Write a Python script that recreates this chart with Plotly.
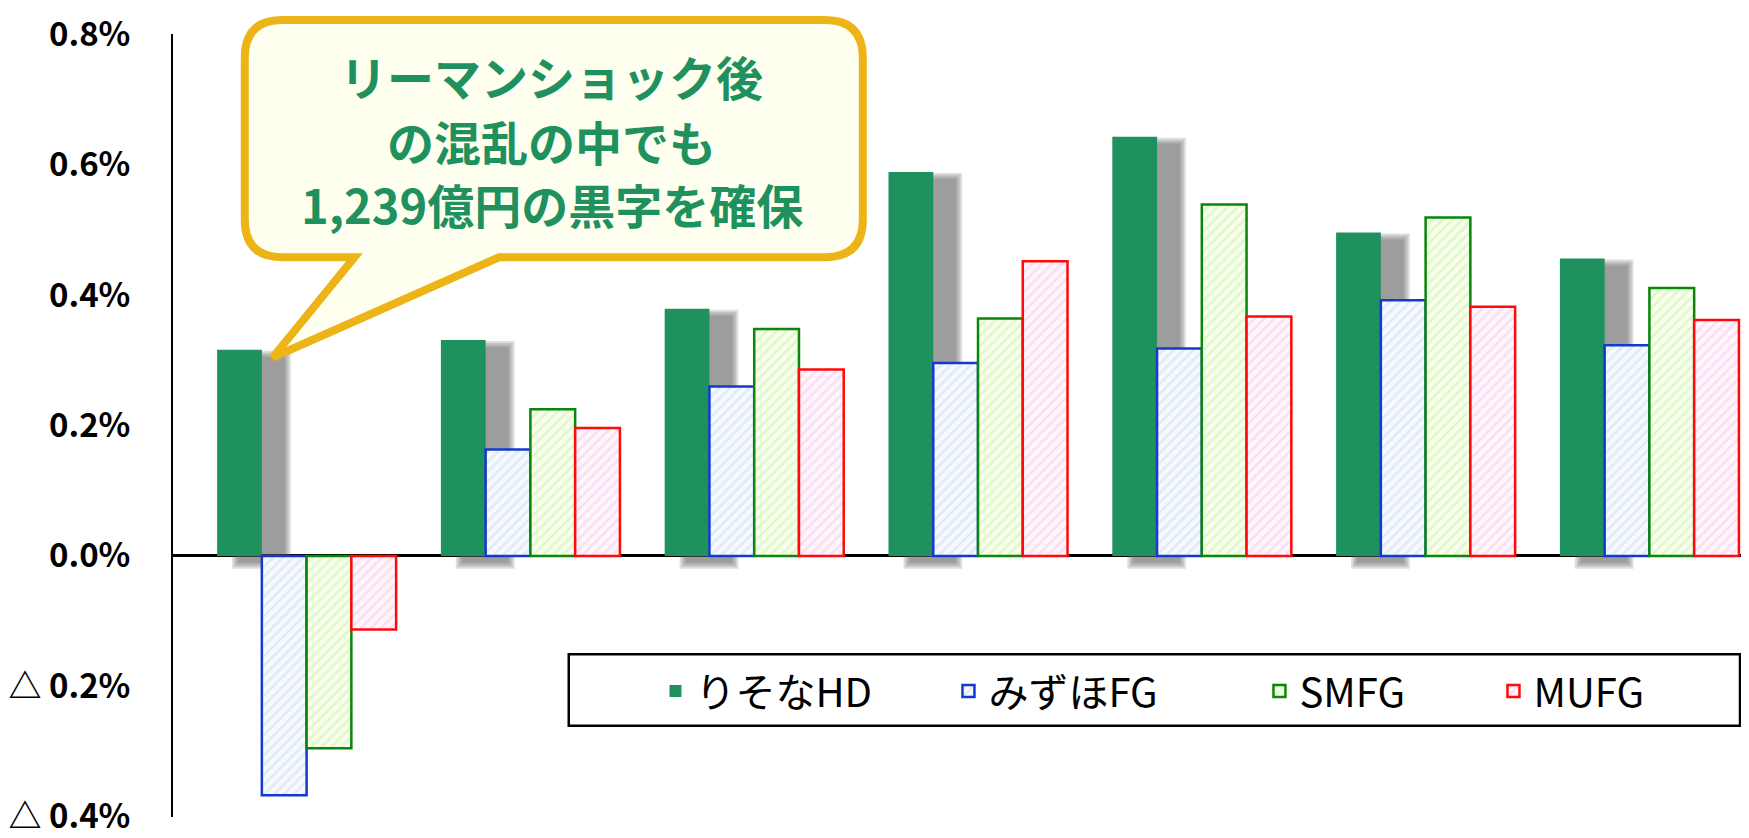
import plotly.graph_objects as go

# ---- data (ROA-like ratio, %) ----
categories = ["2008年度", "2009年度", "2010年度", "2011年度", "2012年度", "2013年度", "2014年度"]
series_names = ["りそなHD", "みずほFG", "SMFG", "MUFG"]
resona = [0.316, 0.331, 0.379, 0.589, 0.643, 0.496, 0.456]
mizuho = [-0.367, 0.163, 0.260, 0.296, 0.318, 0.392, 0.323]
smfg = [-0.295, 0.225, 0.348, 0.364, 0.539, 0.519, 0.411]
mufg = [-0.113, 0.196, 0.286, 0.452, 0.367, 0.382, 0.362]

tick_vals = [-0.4, -0.2, 0.0, 0.2, 0.4, 0.6, 0.8]
tick_text = ["△ 0.4%", "△ 0.2%", "0.0%", "0.2%", "0.4%", "0.6%", "0.8%"]

callout_lines = ["リーマンショック後", "の混乱の中でも", "1,239億円の黒字を確保"]

# ---- layout geometry (page pixels; page body has an 8px margin) ----
OFF = 8
FW, FH = 1749 - OFF, 838 - OFF
L, R, T, B = 168 - OFF, 1749 - OFF, 31 - OFF, 820 - OFF
W, H = R - L, B - T
Y0, Y1 = -0.4, 0.8
XR = [-0.597, 6.445]
PX_X = W / (XR[1] - XR[0])      # px per category unit
PX_Y = H / (Y1 - Y0)            # px per % unit


def fx(p):
    return (p - OFF - L) / W


def fy(p):
    return (B - (p - OFF)) / H


GREEN = "#1F915E"
BW = 0.2
FONT = "Noto Sans CJK JP"

fig = go.Figure()

# soft drop shadow behind the solid Resona bars (derived from Resona values)
sh_dx = 22 / PX_X
sh_dy = 8 / PX_Y
sh_base = -6 / PX_Y
for e in [7, 5, 3, 1]:
    ex = e / PX_X
    ey = e / PX_Y
    fig.add_trace(go.Bar(
        x=categories,
        y=[v - sh_dy + ey - (sh_base - ey) for v in resona],
        base=sh_base - ey,
        offset=-0.4 + sh_dx - ex,
        width=BW + 2 * ex,
        marker=dict(color="rgba(90,90,90,0.2)", line=dict(width=0)),
        showlegend=False,
        hoverinfo="skip",
    ))

fig.add_trace(go.Bar(
    x=categories, y=resona, name=series_names[0],
    offset=-0.4, width=BW,
    marker=dict(color=GREEN, line=dict(width=0)),
    legendwidth=248,
))

styles = [
    (mizuho, series_names[1], "#1539D0", "#C9DBF2", "#F6F9FD", 266),
    (smfg, series_names[2], "#0A860A", "#C8F29A", "#F7FEEE", 189),
    (mufg, series_names[3], "#FF0A0A", "#F6C6EE", "#FFF6FC", 120),
]
for i, (vals, nm, lc, fg, bg, lw) in enumerate(styles):
    fig.add_trace(go.Bar(
        x=categories, y=vals, name=nm,
        offset=-0.2 + 0.2 * i, width=BW,
        marker=dict(
            color=bg,
            line=dict(color=lc, width=2.5),
            pattern=dict(shape="/", fgcolor=fg, bgcolor=bg, size=7, solidity=0.35),
        ),
        legendwidth=lw,
    ))

# callout bubble
r = 38
xl, xr_, yt, yb = 240, 860, 17, 256
tail_l, tail_r, tip = 350, 495, (268, 357)


def P(x, y):
    return f"{fx(x):.5f},{fy(y):.5f}"


path = (
    f"M {P(xl + r, yt)} L {P(xr_ - r, yt)} Q {P(xr_, yt)} {P(xr_, yt + r)} "
    f"L {P(xr_, yb - r)} Q {P(xr_, yb)} {P(xr_ - r, yb)} "
    f"L {P(tail_r, yb)} L {P(*tip)} L {P(tail_l, yb)} "
    f"L {P(xl + r, yb)} Q {P(xl, yb)} {P(xl, yb - r)} "
    f"L {P(xl, yt + r)} Q {P(xl, yt)} {P(xl + r, yt)} Z"
)
fig.add_shape(type="path", path=path, xref="paper", yref="paper",
              line=dict(color="#EDB418", width=8), fillcolor="#FFFFF0", layer="above")

line_y = [73, 138, 202]
for txt, yy in zip(callout_lines, line_y):
    fig.add_annotation(
        text=txt, xref="paper", yref="paper", x=fx(548), y=fy(yy),
        xanchor="center", yanchor="middle", showarrow=False,
        font=dict(family=FONT, size=47, color=GREEN, weight="bold"),
    )

# legend frame
fig.add_shape(type="rect", xref="paper", yref="paper",
              x0=fx(565), x1=fx(1740), y0=fy(728), y1=fy(656),
              line=dict(color="black", width=2.5), fillcolor="rgba(0,0,0,0)", layer="above")

fig.update_layout(
    width=FW, height=FH,
    margin=dict(l=L, r=FW - R, t=T, b=FH - B),
    paper_bgcolor="white", plot_bgcolor="white",
    barmode="overlay",
    showlegend=True,
    legend=dict(
        orientation="h", x=fx(652), xanchor="left", y=fy(693), yanchor="middle",
        font=dict(family=FONT, size=40, color="black"),
        bgcolor="rgba(0,0,0,0)", borderwidth=0, traceorder="normal",
    ),
    font=dict(family=FONT),
)
fig.update_xaxes(type="category", range=XR, showticklabels=False, ticks="",
                 showgrid=False, showline=False, zeroline=False)
fig.update_yaxes(range=[Y0 - 0.0005, Y1 + 0.0005], tickvals=tick_vals, ticktext=tick_text,
                 showgrid=False, showline=True, linecolor="black", linewidth=2,
                 zeroline=True, zerolinecolor="black", zerolinewidth=2.5,
                 ticks="", ticklabelstandoff=34, ticklabeloverflow="allow",
                 tickfont=dict(family=FONT, size=33, color="black", weight="bold"))

fig.write_html("out.html")
